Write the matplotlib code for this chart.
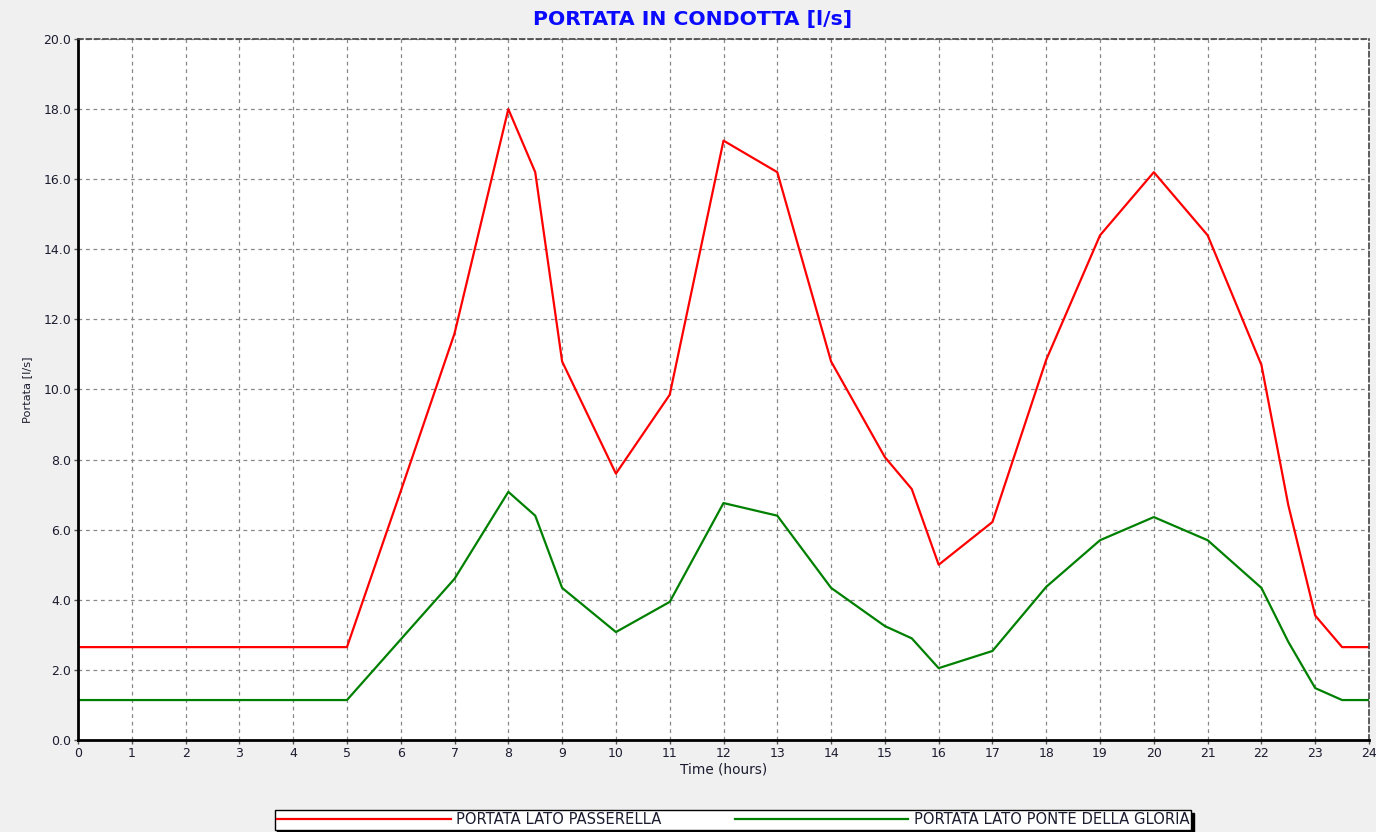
import matplotlib
matplotlib.use("Agg")
import matplotlib.pyplot as plt
from matplotlib.ticker import FormatStrFormatter, MultipleLocator

hours = [0, 1, 2, 3, 4, 5, 6, 7, 8, 8.5, 9, 10, 11, 12, 13, 14, 15, 15.5, 16,
         17, 18, 19, 20, 21, 22, 22.5, 23, 23.5, 24]
passerella = [2.65, 2.65, 2.65, 2.65, 2.65, 2.65, 7.1, 11.6, 18.0, 16.2, 10.8, 7.6, 9.85,
              17.1, 16.2, 10.8, 8.07, 7.16, 5.0, 6.22, 10.85, 14.4, 16.2, 14.4, 10.7,
              6.7, 3.55, 2.65, 2.65]
gloria = [1.14, 1.14, 1.14, 1.14, 1.14, 1.14, 2.87, 4.6, 7.08, 6.4, 4.34, 3.08, 3.94,
          6.76, 6.4, 4.34, 3.25, 2.9, 2.05, 2.54, 4.37, 5.7, 6.36, 5.7, 4.34,
          2.8, 1.48, 1.14, 1.14]
labels = ["PORTATA LATO PASSERELLA", "PORTATA LATO PONTE DELLA GLORIA"]

plt.rcParams['font.family'] = ['DejaVu Sans']

fig = plt.figure(figsize=(13.76, 8.32), dpi=100, facecolor='#f0f0f0')
ax = fig.add_axes([78/1376, 92/832, 1291/1376, 701/832])
ax.set_facecolor('white')

ax.plot(hours, passerella, color='#ff0000', lw=1.6, label=labels[0])
ax.plot(hours, gloria, color='#008000', lw=1.6, label=labels[1])

ax.set_xlim(0, 24)
ax.set_ylim(0, 20)
ax.xaxis.set_major_locator(MultipleLocator(1))
ax.yaxis.set_major_locator(MultipleLocator(2))
ax.yaxis.set_major_formatter(FormatStrFormatter('%.1f'))
ax.tick_params(labelsize=9, length=3, width=1, color='#555555', pad=2, labelcolor='#1c1c30')
ax.grid(True, color='#888888', linestyle=(0, (3, 3)), linewidth=0.9)

for s in ['left', 'bottom']:
    ax.spines[s].set_linewidth(2)
    ax.spines[s].set_color('black')
for s in ['top', 'right']:
    ax.spines[s].set_linestyle((0, (3, 2)))
    ax.spines[s].set_color('#444444')
    ax.spines[s].set_linewidth(1.2)

ax.set_xlabel('Time (hours)', fontsize=9.8, labelpad=2, color='#1c1c30')
ax.set_ylabel('Portata [l/s]', fontsize=8.2, labelpad=8, color='#1c1c30')
fig.text(693/1376, 1 - 20/832, 'PORTATA IN CONDOTTA [l/s]', color='#0a0aff',
         fontsize=14.7, fontweight='bold', ha='center', va='center')

leg = fig.legend(loc='center', bbox_to_anchor=(733/1376, 1 - 820/832), ncol=2,
                 fontsize=10.6, handlelength=11.8, handletextpad=0.35, columnspacing=5.0,
                 frameon=True, fancybox=False, shadow={'color': 'black', 'alpha': 1},
                 borderpad=0.15, borderaxespad=0)
leg.get_frame().set_edgecolor('black')
leg.get_frame().set_linewidth(1)
for t in leg.get_texts():
    t.set_color('#1c1c30')

fig.savefig('out.png', dpi=100, facecolor=fig.get_facecolor())
